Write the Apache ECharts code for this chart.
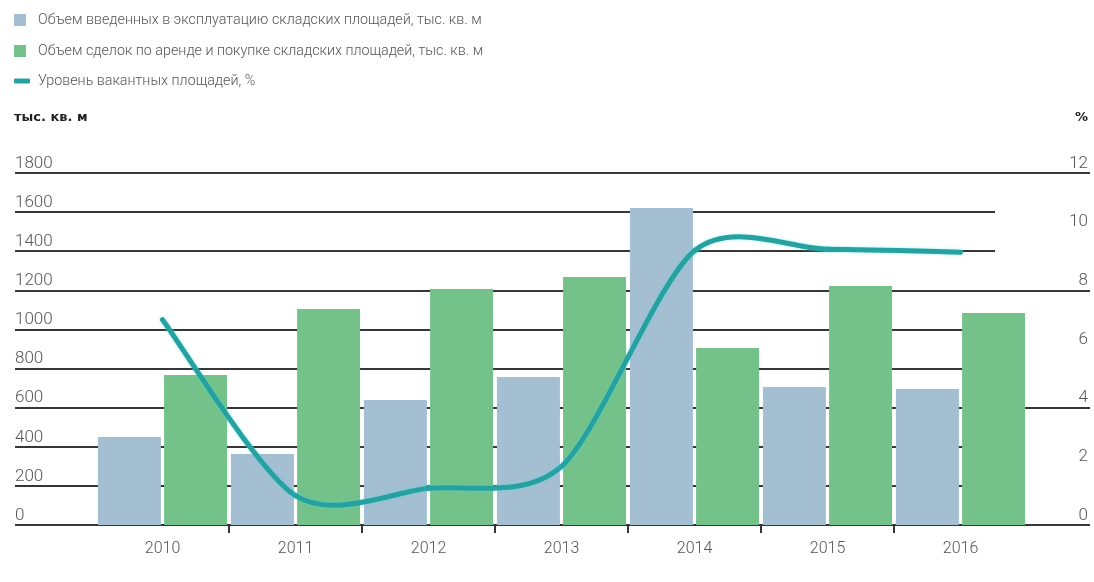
<!DOCTYPE html>
<html>
<head>
<meta charset="utf-8">
<script src="https://cdn.jsdelivr.net/npm/echarts@6/dist/echarts.min.js"></script>
<style>
html,body{margin:0;padding:0;background:#fff;}
#chart{width:1094px;height:582px;}
</style>
</head>
<body>
<div id="chart"></div>
<script>
var categories = ['2010', '2011', '2012', '2013', '2014', '2015', '2016'];
var commissioned = [450, 363, 639, 757, 1621, 706, 696];
var deals = [767, 1105, 1207, 1268, 905, 1222, 1084];
var vacancy = [7.0, 1.0, 1.25, 2.0, 9.35, 9.4, 9.3];
var leftTicks = { min: 0, max: 1800, interval: 200 };
var rightTicks = { min: 0, max: 12, interval: 2 };

var nameBlue = 'Объем введенных в эксплуатацию складских площадей, тыс. кв. м';
var nameGreen = 'Объем сделок по аренде и покупке складских площадей, тыс. кв. м';
var nameLine = 'Уровень вакантных площадей, %';

var FONT = 'Roboto, "Liberation Sans", sans-serif';
var TXT = '#555555';
var GRIDC = '#363636';
var BLUE = '#a4bfd2';
var GREEN = '#74c28a';
var TEAL = '#27a0a0';

var chart = echarts.init(document.getElementById('chart'), null, { renderer: 'canvas' });

var legendText = { fontFamily: FONT, fontWeight: 300, fontSize: 14.3, color: TXT, padding: [0, 0, 0, 7] };
var n = vacancy.length;

function lineItem(params, api) {
  var i = params.dataIndex;
  if (i >= n - 1) return null;
  function pt(k) {
    k = Math.max(0, Math.min(n - 1, k));
    return api.coord([k, vacancy[k]]);
  }
  var p0 = pt(i - 1), p1 = pt(i), p2 = pt(i + 1), p3 = pt(i + 2);
  var t = 0.14;
  return {
    type: 'bezierCurve',
    shape: {
      x1: p1[0], y1: p1[1], x2: p2[0], y2: p2[1],
      cpx1: p1[0] + (p2[0] - p0[0]) * t, cpy1: p1[1] + (p2[1] - p0[1]) * t,
      cpx2: p2[0] - (p3[0] - p1[0]) * t, cpy2: p2[1] - (p3[1] - p1[1]) * t
    },
    style: { stroke: TEAL, fill: null, lineWidth: 5, lineCap: 'round',
      shadowColor: 'rgba(60,230,235,0.55)', shadowBlur: 3 }
  };
}

chart.setOption({
  animation: false,
  backgroundColor: '#ffffff',
  textStyle: { fontFamily: FONT },
  title: [
    { text: 'тыс. кв. м', left: 14, top: 111, padding: 0, textStyle: { fontFamily: '"DejaVu Sans", sans-serif', fontSize: 13, fontWeight: 'bold', color: '#222' } },
    { text: '%', right: 6, top: 111, padding: 0, textStyle: { fontFamily: '"DejaVu Sans", sans-serif', fontSize: 13, fontWeight: 'bold', color: '#222' } }
  ],
  legend: [
    { data: [nameBlue], left: 14, top: 13, padding: 0, itemWidth: 12, itemHeight: 12, icon: 'rect', textStyle: legendText, selectedMode: false },
    { data: [nameGreen], left: 14, top: 44, padding: 0, itemWidth: 12, itemHeight: 12, icon: 'rect', textStyle: legendText, selectedMode: false },
    { data: [nameLine], left: 14, top: 74, padding: 0, itemWidth: 16, itemHeight: 5, icon: 'roundRect', textStyle: { fontFamily: FONT, fontWeight: 300, fontSize: 14.3, color: TXT, padding: [0, 0, 0, 3] }, selectedMode: false }
  ],
  grid: [
    { left: 96, right: 67, top: 173, bottom: 57 },
    { left: 15, right: 4, top: 173, bottom: 57 },
    { left: 15, right: 99, top: 173, bottom: 57 },
    { left: 96, right: 67, top: 525, height: 8 }
  ],
  xAxis: [
    { type: 'category', gridIndex: 0, data: categories, boundaryGap: true,
      axisLine: { show: false }, axisTick: { show: false }, splitLine: { show: false },
      axisLabel: { fontFamily: FONT, fontWeight: 300, fontSize: 16, color: TXT, margin: 16 } },
    { type: 'value', gridIndex: 1, show: false },
    { type: 'value', gridIndex: 2, show: false },
    { type: 'category', gridIndex: 3, data: categories, boundaryGap: true,
      axisLine: { show: false }, axisTick: { show: false }, axisLabel: { show: false },
      splitLine: { show: true, showMinLine: false, showMaxLine: false, lineStyle: { color: GRIDC, width: 2 } } }
  ],
  yAxis: [
    { type: 'value', gridIndex: 0, position: 'left', min: leftTicks.min, max: leftTicks.max, interval: leftTicks.interval,
      axisLine: { show: false }, axisTick: { show: false }, splitLine: { show: false },
      axisLabel: { fontFamily: FONT, fontWeight: 300, fontSize: 17, color: TXT, align: 'left', margin: 81, verticalAlign: 'bottom', padding: [0, 0, 1, 0],
        formatter: function (v) { return String(v); } } },
    { type: 'value', gridIndex: 0, position: 'right', min: rightTicks.min, max: rightTicks.max, interval: rightTicks.interval,
      axisLine: { show: false }, axisTick: { show: false }, splitLine: { show: false },
      axisLabel: { fontFamily: FONT, fontWeight: 300, fontSize: 17, color: TXT, align: 'right', margin: 61, verticalAlign: 'bottom', padding: [0, 0, 1, 0],
        formatter: function (v) { return String(v); } } },
    { type: 'value', gridIndex: 1, min: 0, max: 1800, interval: 600,
      axisLine: { show: false }, axisTick: { show: false }, axisLabel: { show: false },
      splitLine: { show: true, lineStyle: { color: GRIDC, width: 2 } } },
    { type: 'value', gridIndex: 2, min: 0, max: 1800, interval: 200,
      axisLine: { show: false }, axisTick: { show: false }, axisLabel: { show: false },
      splitLine: { show: true, lineStyle: { color: GRIDC, width: 2 } } },
    { type: 'value', gridIndex: 3, show: false }
  ],
  series: [
    { name: nameBlue, type: 'bar', xAxisIndex: 0, yAxisIndex: 0, data: commissioned,
      barWidth: 63, barGap: '5%', itemStyle: { color: BLUE }, z: 3 },
    { name: nameGreen, type: 'bar', xAxisIndex: 0, yAxisIndex: 0, data: deals,
      barWidth: 63, barGap: '5%', itemStyle: { color: GREEN }, z: 3 },
    { name: nameLine, type: 'custom', xAxisIndex: 0, yAxisIndex: 1,
      data: vacancy.map(function (v, i) { return [i, v]; }),
      encode: { x: 0, y: 1 }, renderItem: lineItem,
      itemStyle: { color: TEAL }, z: 5 }
  ]
});
</script>
</body>
</html>
